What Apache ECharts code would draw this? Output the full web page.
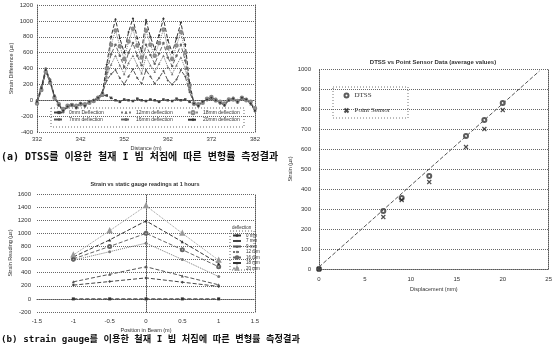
<!DOCTYPE html>
<html>
<head>
<meta charset="utf-8">
<script src="https://cdn.jsdelivr.net/npm/echarts@6/dist/echarts.min.js"></script>
<style>
  html, body { margin: 0; padding: 0; background: #fff; }
  #chart { width: 555px; height: 359px; }
</style>
</head>
<body>
<div id="chart"></div>
<script>
// (a) DTSS strain difference along the fibre
const distance = [332, 333, 334, 335, 336, 337, 338, 339, 340, 341, 342, 343, 344, 345, 346, 347,
  348, 349, 350, 351, 352, 353, 354, 355, 356, 357, 358, 359, 360, 361, 362, 363, 364, 365, 366, 367, 368,
  369, 370, 371, 372, 373, 374, 375, 376, 377, 378, 379, 380, 381, 382]
const dts0 = [-30, 120, 350, 230, 40, -50, -120, -70, -50, -80, -40, -60, -20, -10, 20, 60,
  60, 30, 0, -20, 10, 0, -10, 20, 0, -10, 10, 0, -20, 10, 0, -10, 20, 0, 10, -20, -50,
  -60, -20, 10, 20, 0, -30, -50, 0, 20, -20, 20, 10, -30, -110]
const dts7 = [-10, 160, 390, 250, 50, -60, -140, -80, -60, -90, -30, -70, -20, 0, 30, 90,
  250, 330, 380, 280, 200, 300, 390, 280, 210, 380, 300, 210, 280, 370, 250, 200, 260, 380, 300, 100, -30,
  -70, -10, 10, 30, 10, -20, -60, 10, 20, -10, 30, 0, -40, -130]
const dts12 = [-20, 140, 370, 240, 30, -70, -130, -60, -70, -80, -50, -60, -30, 10, 20, 80,
  300, 450, 560, 440, 330, 470, 560, 440, 340, 550, 440, 360, 460, 560, 420, 330, 440, 540, 400, 130, -30,
  -60, -30, 20, 20, -10, -40, -50, 20, 10, -30, 40, 10, -50, -120]
const dts16 = [0, 170, 400, 260, 60, -40, -150, -90, -50, -100, -40, -80, -10, 0, 40, 100,
  350, 580, 700, 560, 420, 600, 720, 560, 440, 700, 570, 460, 590, 720, 540, 430, 560, 700, 500, 160, -40,
  -80, -20, 0, 30, 20, -30, -70, 0, 30, -20, 20, 20, -40, -140]
const dts18 = [-40, 130, 360, 220, 30, -50, -110, -70, -60, -70, -50, -50, -30, -10, 30, 70,
  400, 700, 880, 680, 520, 740, 900, 690, 540, 880, 700, 560, 720, 890, 660, 520, 690, 860, 600, 190, -40,
  -50, -30, 20, 40, 0, -20, -40, 10, 10, -10, 30, 0, -20, -100]
const dts20 = [-20, 150, 380, 240, 50, -60, -130, -80, -60, -90, -40, -70, -20, 0, 30, 90,
  450, 800, 1020, 780, 600, 860, 1030, 780, 620, 1010, 800, 640, 820, 1030, 760, 600, 780, 980, 700, 220, -40,
  -70, -20, 10, 30, 0, -30, -60, 0, 20, -20, 30, 10, -40, -130]

// (b) strain gauge readings along the beam
const position = [-1, -0.5, 0, 0.5, 1]
const sg0 = [0, 0, 0, 0, 0]
const sg7 = [210, 265, 320, 255, 190]
const sg9 = [260, 375, 490, 350, 215]
const sg12 = [590, 720, 850, 600, 340]
const sg16 = [610, 800, 1000, 750, 490]
const sg18 = [640, 900, 1190, 870, 540]
const sg20 = [670, 1040, 1420, 1000, 590]

// (c) DTSS vs point sensor, averages
const displacement = [0, 7, 9, 12, 16, 18, 20]
const dtssAvg = [0, 290, 355, 465, 665, 745, 830]
const pointAvg = [0, 260, 345, 435, 610, 700, 795]
const fitX = [0, 24]
const fitY = [10, 990]

const pairs = (xs, ys) => xs.map((x, i) => [x, ys[i]])

const txt = '#333'
const lab = { fontSize: 6, color: txt, fontFamily: 'Liberation Sans', formatter: v => String(v) }
const dotted = { show: true, lineStyle: { type: 'dotted', color: '#555', width: 1 } }
const split = { show: true, lineStyle: { type: 'dotted', color: '#666', width: 1 } }

function rightBorder(gridIndex, min, max) {
  return {
    gridIndex: gridIndex, type: 'value', position: 'right', min: min, max: max,
    axisLine: dotted, axisTick: { show: false }, axisLabel: { show: false }, splitLine: { show: false }
  }
}

function dtsLine(name, data, color, symbol, dash) {
  return {
    name: name, type: 'line', xAxisIndex: 0, yAxisIndex: 0,
    data: pairs(distance, data), symbol: symbol, symbolSize: 2.5,
    lineStyle: { color: color, width: 1, type: dash }, itemStyle: { color: color },
    animation: false
  }
}

function sgLine(name, data, color, symbol, dash) {
  return {
    name: name, type: 'line', xAxisIndex: 1, yAxisIndex: 2,
    data: pairs(position, data), symbol: symbol, symbolSize: 3,
    lineStyle: { color: color, width: 1, type: dash }, itemStyle: { color: color },
    animation: false
  }
}

const legendA = (left, names) => ({
  orient: 'vertical', left: left, top: 110, itemGap: 2, itemWidth: 10, itemHeight: 4,
  padding: 0, data: names, textStyle: { fontSize: 5, color: txt }
})

const option = {
  backgroundColor: '#fff',
  animation: false,
  grid: [
    { left: 37, top: 5, width: 218, height: 127 },
    { left: 37, top: 194, width: 218, height: 118 },
    { left: 319, top: 69, width: 231, height: 200 }
  ],
  xAxis: [
    {
      gridIndex: 0, type: 'value', min: 332, max: 382, interval: 10,
      name: 'Distance (m)', nameLocation: 'middle', nameGap: 13,
      nameTextStyle: { fontSize: 5.5, color: txt },
      axisLine: dotted, axisTick: { show: false }, axisLabel: Object.assign({ margin: 4 }, lab),
      splitLine: { show: false }
    },
    {
      gridIndex: 1, type: 'value', min: -1.5, max: 1.5, interval: 0.5,
      name: 'Position in Beam (m)', nameLocation: 'middle', nameGap: 15,
      nameTextStyle: { fontSize: 5.5, color: txt },
      axisLine: dotted, axisTick: { show: false }, axisLabel: Object.assign({ margin: 6 }, lab),
      splitLine: { show: false }
    },
    {
      gridIndex: 2, type: 'value', min: 0, max: 25, interval: 5,
      name: 'Displacement (mm)', nameLocation: 'middle', nameGap: 17,
      nameTextStyle: { fontSize: 5.5, color: txt },
      axisLine: dotted, axisTick: { show: false }, axisLabel: Object.assign({ margin: 7 }, lab),
      splitLine: { show: false }
    }
  ],
  yAxis: [
    {
      gridIndex: 0, type: 'value', min: -400, max: 1200, interval: 200,
      name: 'Strain Difference (με)', nameLocation: 'middle', nameGap: 23,
      nameTextStyle: { fontSize: 5.5, color: txt },
      axisLine: dotted, axisTick: { show: false }, axisLabel: Object.assign({ margin: 4 }, lab),
      splitLine: split
    },
    rightBorder(0, -400, 1200),
    {
      gridIndex: 1, type: 'value', min: -200, max: 1600, interval: 200,
      name: 'Strain Reading (με)', nameLocation: 'middle', nameGap: 22,
      nameTextStyle: { fontSize: 5.5, color: txt },
      axisLine: dotted, axisTick: { show: false }, axisLabel: Object.assign({ margin: 6 }, lab),
      splitLine: split
    },
    rightBorder(1, -200, 1600),
    {
      gridIndex: 2, type: 'value', min: 0, max: 1000, interval: 100,
      name: 'Strain (με)', nameLocation: 'middle', nameGap: 22,
      nameTextStyle: { fontSize: 5.5, color: txt },
      axisLine: dotted, axisTick: { show: false }, axisLabel: Object.assign({ margin: 8 }, lab),
      splitLine: split
    },
    rightBorder(2, 0, 1000)
  ],
  legend: [
    legendA(53, ['0mm Deflection', '7mm deflection']),
    legendA(120, ['12mm deflection', '16mm deflection']),
    legendA(187, ['18mm deflection', '20mm deflection']),
    {
      orient: 'vertical', left: 232, top: 233, itemGap: 0.5, itemWidth: 8, itemHeight: 3,
      padding: 0, data: ['0 mm', '7 mm', '9 mm', '12 mm', '16 mm', '18 mm', '20 mm'],
      textStyle: { fontSize: 4.5, color: txt }
    },
    {
      orient: 'vertical', left: 342, top: 92, itemGap: 7, itemWidth: 6, itemHeight: 4,
      padding: 0, data: ['DTSS', 'Point Sensor'],
      textStyle: { fontSize: 7, color: txt, fontFamily: 'Liberation Serif' }
    }
  ],
  graphic: [
    { type: 'rect', shape: { x: 51, y: 108, width: 193, height: 19 },
      style: { fill: 'none', stroke: '#666', lineWidth: 1, lineDash: [1, 2] } },
    { type: 'rect', shape: { x: 230, y: 231, width: 24, height: 39 },
      style: { fill: 'none', stroke: '#666', lineWidth: 1, lineDash: [1, 2] } },
    { type: 'rect', shape: { x: 333, y: 87, width: 75, height: 31 },
      style: { fill: 'none', stroke: '#777', lineWidth: 1, lineDash: [1, 2] } },
    { type: 'text', x: 232, y: 225,
      style: { text: 'deflection', font: '4.5px Liberation Sans', fill: txt } },
    { type: 'text', x: 145, y: 181,
      style: { text: 'Strain vs static gauge readings at 1 hours', textAlign: 'center',
        font: 'bold 5.5px Liberation Sans', fill: txt } },
    { type: 'text', x: 433, y: 59,
      style: { text: 'DTSS vs Point Sensor Data (average values)', textAlign: 'center',
        font: 'bold 6px Liberation Sans', fill: txt } },
    { type: 'text', x: 1, y: 152,
      style: { text: '(a) DTSS를 이용한 철재 I 빔 처짐에 따른 변형률 측정결과',
        font: 'bold 10px "DejaVu Sans Mono", "Noto Sans CJK KR"', fill: '#111' } },
    { type: 'text', x: 1, y: 335,
      style: { text: '(b) strain gauge를 이용한 철재 I 빔 처짐에 따른 변형률 측정결과',
        font: 'bold 9.2px "DejaVu Sans Mono", "Noto Sans CJK KR"', fill: '#111' } }
  ],
  series: [
    dtsLine('0mm Deflection', dts0, '#444', 'rect', 'dashed'),
    dtsLine('7mm deflection', dts7, '#555', 'diamond', 'dashed'),
    dtsLine('12mm deflection', dts12, '#777', 'triangle', 'dotted'),
    dtsLine('16mm deflection', dts16, '#666', 'circle', 'dashed'),
    dtsLine('18mm deflection', dts18, '#888', 'emptyCircle', 'dotted'),
    dtsLine('20mm deflection', dts20, '#333', 'diamond', 'dashed'),

    sgLine('0 mm', sg0, '#333', 'rect', 'dashed'),
    sgLine('7 mm', sg7, '#444', 'diamond', 'dashed'),
    sgLine('9 mm', sg9, '#555', 'triangle', 'dashed'),
    sgLine('12 mm', sg12, '#777', 'circle', 'dotted'),
    sgLine('16 mm', sg16, '#666', 'emptyCircle', 'dashed'),
    sgLine('18 mm', sg18, '#333', 'triangle', 'dashed'),
    sgLine('20 mm', sg20, '#999', 'emptyTriangle', 'dotted'),

    {
      name: 'fit', type: 'line', xAxisIndex: 2, yAxisIndex: 4,
      data: pairs(fitX, fitY), symbol: 'none',
      lineStyle: { color: '#555', width: 1, type: [4, 2] }, animation: false
    },
    {
      name: 'DTSS', type: 'scatter', xAxisIndex: 2, yAxisIndex: 4,
      data: pairs(displacement, dtssAvg), symbol: 'emptyCircle', symbolSize: 4,
      itemStyle: { color: '#333', borderWidth: 1 }
    },
    {
      name: 'Point Sensor', type: 'scatter', xAxisIndex: 2, yAxisIndex: 4,
      data: pairs(displacement, pointAvg),
      symbol: 'path://M0,0 L10,10 M10,0 L0,10', symbolSize: 4,
      itemStyle: { color: 'none', borderColor: '#222', borderWidth: 1.2 }
    }
  ]
}

const myChart = echarts.init(document.getElementById('chart'))
myChart.setOption(option)
</script>
</body>
</html>
